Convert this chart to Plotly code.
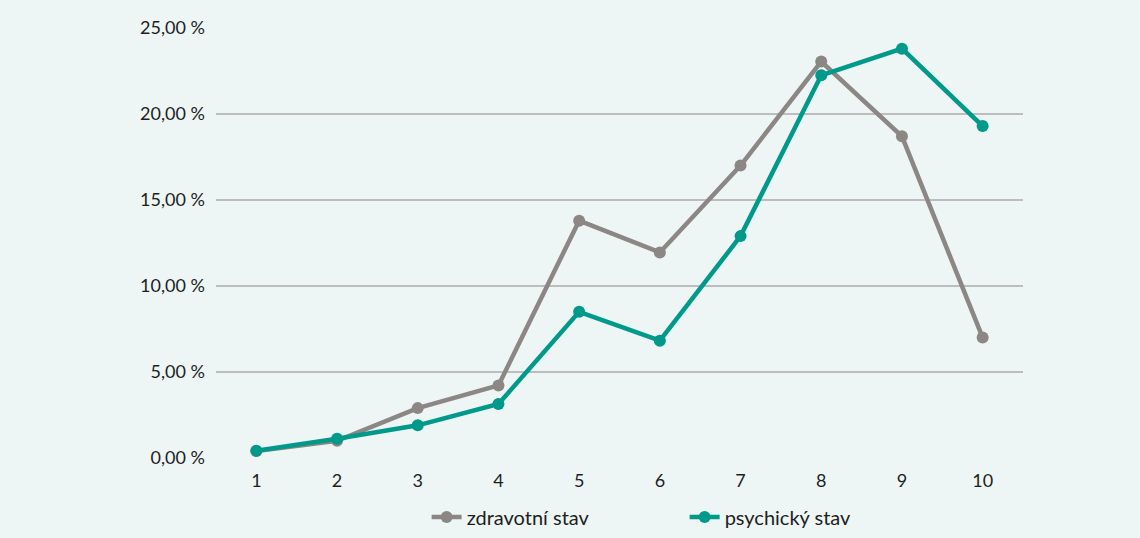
import plotly.graph_objects as go

categories = ["1", "2", "3", "4", "5", "6", "7", "8", "9", "10"]
zdravotni = [0.40, 1.00, 2.90, 4.22, 13.80, 11.95, 17.00, 23.05, 18.70, 7.00]
psychicky = [0.42, 1.12, 1.90, 3.14, 8.50, 6.82, 12.90, 22.25, 23.80, 19.30]
series_names = ["zdravotní stav", "psychický stav"]
y_tick_values = [0, 5, 10, 15, 20, 25]
y_tick_labels = ["0,00 %", "5,00 %", "10,00 %", "15,00 %", "20,00 %", "25,00 %"]
colors = ["#8C8785", "#00998A"]

BG = "#EDF6F5"
FONT = "Lato, Open Sans, sans-serif"

fig = go.Figure()
for name, vals, col in zip(series_names, [zdravotni, psychicky], colors):
    fig.add_trace(go.Scatter(
        x=categories, y=vals, name=name, mode="lines+markers",
        line=dict(color=col, width=4.5),
        marker=dict(color=col, size=12),
    ))

fig.update_layout(
    width=1140, height=538,
    paper_bgcolor=BG, plot_bgcolor=BG,
    margin=dict(l=216, r=117, t=28, b=80, autoexpand=False),
    font=dict(family=FONT, size=18, color="#1E1E1E"),
    showlegend=True,
    legend=dict(orientation="h", x=0.261, xanchor="left", y=-0.137, yanchor="middle",
                font=dict(size=20, color="#1E1E1E"), entrywidth=213,
                traceorder="normal", bgcolor="rgba(0,0,0,0)"),
)
fig.update_xaxes(type="category", range=[-0.5, 9.5], showgrid=False, zeroline=False,
                 showline=False, ticks="", ticklabelstandoff=10)
fig.update_yaxes(range=[0, 25], tickvals=y_tick_values, ticktext=y_tick_labels,
                 showgrid=True, gridcolor="#BDBDBD", gridwidth=1.5,
                 zeroline=False, showline=False, ticks="", ticklabelstandoff=10)

fig.write_html("out.html", config={"displayModeBar": False},
               post_script="document.body.style.margin='0';document.body.style.background='" + BG + "';")
